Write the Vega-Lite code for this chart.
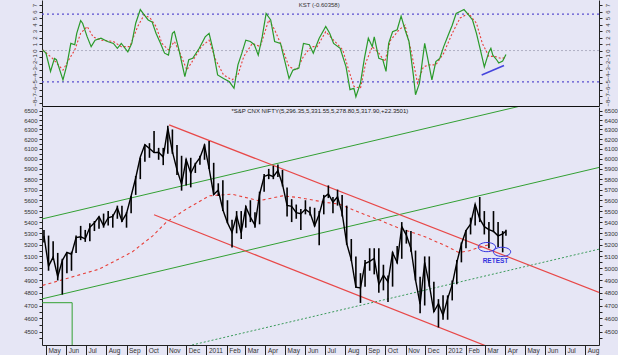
{
"$schema":"https://vega.github.io/schema/vega-lite/v6.json",
"background":"#e6e6f5",
"padding":{"left":5,"top":0,"right":0,"bottom":0},
"spacing":0,
"config":{"view":{"stroke":null},"axis":{"labelFont":"Liberation Sans","labelFontSize":6,"labelColor":"#333","domainColor":"#222","tickColor":"#222","grid":false},"text":{"font":"Liberation Sans"}},
"datasets":{
"lv":[{"v":5.6},{"v":-4.8}],
"zero":[{"v":0}],
"kt":[{"date":"2011-06-22","v":7.0,"t":"KST (-0.60358)"}],
"kb":[{"date":"2012-02-25","v":-3.75},{"date":"2012-03-30","v":-2.3}],
"kst":[{"date":"2010-04-26","v":0.1},{"date":"2010-05-01","v":-0.4},{"date":"2010-05-08","v":-3.2},{"date":"2010-05-14","v":-1.2},{"date":"2010-05-17","v":-1.4},{"date":"2010-05-27","v":-4.5},{"date":"2010-06-02","v":-2.2},{"date":"2010-06-08","v":1.1},{"date":"2010-06-14","v":0.9},{"date":"2010-06-17","v":2.65},{"date":"2010-06-23","v":4.6},{"date":"2010-06-26","v":4.2},{"date":"2010-07-03","v":2.1},{"date":"2010-07-09","v":0.6},{"date":"2010-07-15","v":1.6},{"date":"2010-07-24","v":1.9},{"date":"2010-08-03","v":1.4},{"date":"2010-08-12","v":1.1},{"date":"2010-08-18","v":0.35},{"date":"2010-08-24","v":1.1},{"date":"2010-09-03","v":-0.2},{"date":"2010-09-09","v":1.1},{"date":"2010-09-15","v":4.2},{"date":"2010-09-22","v":6.3},{"date":"2010-09-28","v":5.5},{"date":"2010-10-04","v":4.7},{"date":"2010-10-10","v":4.4},{"date":"2010-10-16","v":2.65},{"date":"2010-10-23","v":1.1},{"date":"2010-10-29","v":-0.4},{"date":"2010-11-04","v":-0.7},{"date":"2010-11-10","v":2.65},{"date":"2010-11-13","v":2.9},{"date":"2010-11-20","v":0.1},{"date":"2010-11-29","v":-4},{"date":"2010-12-05","v":-1.4},{"date":"2010-12-11","v":-1.2},{"date":"2010-12-21","v":0.35},{"date":"2010-12-30","v":2.1},{"date":"2011-01-05","v":2.65},{"date":"2011-01-11","v":0.1},{"date":"2011-01-18","v":-3.75},{"date":"2011-01-27","v":-4.3},{"date":"2011-02-05","v":-4.8},{"date":"2011-02-12","v":-5.8},{"date":"2011-02-18","v":-2.2},{"date":"2011-02-24","v":-0.4},{"date":"2011-03-02","v":1.6},{"date":"2011-03-09","v":1.4},{"date":"2011-03-15","v":0.9},{"date":"2011-03-21","v":-0.7},{"date":"2011-03-27","v":2.1},{"date":"2011-04-02","v":5.7},{"date":"2011-04-09","v":4.7},{"date":"2011-04-15","v":1.4},{"date":"2011-04-24","v":1.1},{"date":"2011-04-30","v":-1.4},{"date":"2011-05-07","v":-4.3},{"date":"2011-05-13","v":-3},{"date":"2011-05-22","v":-2.7},{"date":"2011-05-29","v":1.1},{"date":"2011-06-07","v":0.9},{"date":"2011-06-13","v":-0.4},{"date":"2011-06-22","v":1.9},{"date":"2011-07-02","v":3.7},{"date":"2011-07-08","v":2.65},{"date":"2011-07-14","v":1.1},{"date":"2011-07-24","v":0.35},{"date":"2011-08-02","v":-2.5},{"date":"2011-08-08","v":-6},{"date":"2011-08-14","v":-5.8},{"date":"2011-08-17","v":-7.1},{"date":"2011-08-24","v":-5},{"date":"2011-08-30","v":-1.2},{"date":"2011-09-05","v":1.9},{"date":"2011-09-11","v":0.6},{"date":"2011-09-14","v":2.1},{"date":"2011-09-21","v":-1.2},{"date":"2011-09-27","v":-1.4},{"date":"2011-10-02","v":-3.2},{"date":"2011-10-06","v":1.1},{"date":"2011-10-12","v":2.9},{"date":"2011-10-19","v":3.2},{"date":"2011-10-25","v":5.3},{"date":"2011-10-31","v":3.2},{"date":"2011-11-06","v":1.4},{"date":"2011-11-13","v":-4},{"date":"2011-11-16","v":-6.8},{"date":"2011-11-22","v":-5},{"date":"2011-11-30","v":1.1},{"date":"2011-12-04","v":-0.9},{"date":"2011-12-11","v":-4.5},{"date":"2011-12-17","v":-1.7},{"date":"2011-12-23","v":-1.2},{"date":"2011-12-29","v":0.6},{"date":"2012-01-05","v":2.4},{"date":"2012-01-11","v":3.9},{"date":"2012-01-17","v":5.7},{"date":"2012-01-23","v":6},{"date":"2012-01-29","v":6.3},{"date":"2012-02-05","v":5.5},{"date":"2012-02-11","v":4.7},{"date":"2012-02-17","v":2.65},{"date":"2012-02-23","v":0.1},{"date":"2012-02-29","v":-2.5},{"date":"2012-03-07","v":-0.2},{"date":"2012-03-10","v":0.35},{"date":"2012-03-13","v":-0.7},{"date":"2012-03-19","v":-1.45},{"date":"2012-03-22","v":-1.9},{"date":"2012-03-28","v":-1.6},{"date":"2012-04-02","v":-0.6}],
"sig":[{"date":"2010-04-26","v":0.1},{"date":"2010-05-11","v":-1.2},{"date":"2010-05-27","v":-3},{"date":"2010-06-05","v":-1.4},{"date":"2010-06-14","v":0.1},{"date":"2010-06-23","v":2.65},{"date":"2010-07-03","v":3.7},{"date":"2010-07-12","v":2.1},{"date":"2010-07-24","v":1.6},{"date":"2010-08-12","v":1.4},{"date":"2010-08-24","v":0.6},{"date":"2010-09-06","v":0.6},{"date":"2010-09-18","v":3.7},{"date":"2010-09-28","v":5.5},{"date":"2010-10-07","v":5},{"date":"2010-10-16","v":3.7},{"date":"2010-10-25","v":1.1},{"date":"2010-11-04","v":0.1},{"date":"2010-11-13","v":1.4},{"date":"2010-11-23","v":-0.7},{"date":"2010-12-02","v":-3},{"date":"2010-12-12","v":-1.4},{"date":"2010-12-24","v":0.6},{"date":"2011-01-05","v":1.6},{"date":"2011-01-15","v":-1.4},{"date":"2011-01-27","v":-3.75},{"date":"2011-02-09","v":-4.5},{"date":"2011-02-18","v":-3.75},{"date":"2011-02-27","v":-0.9},{"date":"2011-03-12","v":1.1},{"date":"2011-03-24","v":0.6},{"date":"2011-04-06","v":4.7},{"date":"2011-04-15","v":3.2},{"date":"2011-04-24","v":1.1},{"date":"2011-05-07","v":-2.5},{"date":"2011-05-19","v":-3},{"date":"2011-05-29","v":-0.9},{"date":"2011-06-10","v":0.6},{"date":"2011-06-19","v":0.6},{"date":"2011-07-02","v":2.9},{"date":"2011-07-14","v":1.6},{"date":"2011-07-28","v":0.1},{"date":"2011-08-06","v":-3},{"date":"2011-08-14","v":-5.5},{"date":"2011-08-24","v":-5.8},{"date":"2011-09-01","v":-1.9},{"date":"2011-09-11","v":0.6},{"date":"2011-09-21","v":-0.4},{"date":"2011-09-30","v":-1.7},{"date":"2011-10-09","v":1.6},{"date":"2011-10-22","v":3.2},{"date":"2011-10-31","v":3.9},{"date":"2011-11-09","v":0.1},{"date":"2011-11-19","v":-5},{"date":"2011-11-28","v":-2.5},{"date":"2011-12-07","v":-2.2},{"date":"2011-12-17","v":-2.2},{"date":"2011-12-29","v":-0.4},{"date":"2012-01-11","v":2.65},{"date":"2012-01-23","v":5},{"date":"2012-02-05","v":5.7},{"date":"2012-02-17","v":4.2},{"date":"2012-02-26","v":1.1},{"date":"2012-03-07","v":-0.9},{"date":"2012-03-16","v":-0.9},{"date":"2012-03-25","v":-1.2},{"date":"2012-04-02","v":-1.1}],
"px":[{"date":"2010-04-28","h":5330,"l":5220,"c":5278},{"date":"2010-05-05","h":5280,"l":4980,"c":5018},{"date":"2010-05-12","h":5230,"l":5080,"c":5094},{"date":"2010-05-19","h":5130,"l":4900,"c":4931},{"date":"2010-05-26","h":5080,"l":4786,"c":5066},{"date":"2010-06-02","h":5135,"l":4960,"c":5135},{"date":"2010-06-09","h":5140,"l":4980,"c":5119},{"date":"2010-06-16","h":5280,"l":5130,"c":5262},{"date":"2010-06-23","h":5366,"l":5240,"c":5269},{"date":"2010-06-30","h":5330,"l":5225,"c":5251},{"date":"2010-07-07","h":5390,"l":5230,"c":5353},{"date":"2010-07-14","h":5410,"l":5320,"c":5393},{"date":"2010-07-21","h":5450,"l":5340,"c":5449},{"date":"2010-07-28","h":5477,"l":5350,"c":5367},{"date":"2010-08-04","h":5500,"l":5370,"c":5439},{"date":"2010-08-11","h":5470,"l":5350,"c":5452},{"date":"2010-08-18","h":5550,"l":5430,"c":5530},{"date":"2010-08-25","h":5549,"l":5400,"c":5408},{"date":"2010-09-01","h":5490,"l":5350,"c":5479},{"date":"2010-09-08","h":5640,"l":5480,"c":5640},{"date":"2010-09-15","h":5830,"l":5650,"c":5811},{"date":"2010-09-22","h":6010,"l":5800,"c":6018},{"date":"2010-09-29","h":6145,"l":5970,"c":6143},{"date":"2010-10-06","h":6158,"l":6010,"c":6103},{"date":"2010-10-13","h":6284,"l":6060,"c":6062},{"date":"2010-10-20","h":6110,"l":5990,"c":6066},{"date":"2010-10-27","h":6110,"l":5937,"c":6018},{"date":"2010-11-03","h":6338,"l":6050,"c":6312},{"date":"2010-11-10","h":6300,"l":6050,"c":6071},{"date":"2010-11-17","h":6140,"l":5840,"c":5890},{"date":"2010-11-24","h":6030,"l":5690,"c":5752},{"date":"2010-12-01","h":6000,"l":5740,"c":5992},{"date":"2010-12-08","h":6010,"l":5721,"c":5857},{"date":"2010-12-15","h":5960,"l":5860,"c":5948},{"date":"2010-12-22","h":6030,"l":5940,"c":6011},{"date":"2010-12-29","h":6147,"l":5990,"c":6135},{"date":"2011-01-05","h":6181,"l":5900,"c":5904},{"date":"2011-01-12","h":5960,"l":5650,"c":5654},{"date":"2011-01-19","h":5760,"l":5640,"c":5696},{"date":"2011-01-26","h":5790,"l":5500,"c":5512},{"date":"2011-02-02","h":5600,"l":5390,"c":5395},{"date":"2011-02-09","h":5420,"l":5177,"c":5310},{"date":"2011-02-16","h":5500,"l":5300,"c":5458},{"date":"2011-02-23","h":5500,"l":5250,"c":5303},{"date":"2011-03-02","h":5550,"l":5350,"c":5538},{"date":"2011-03-09","h":5600,"l":5400,"c":5445},{"date":"2011-03-16","h":5490,"l":5350,"c":5373},{"date":"2011-03-23","h":5680,"l":5380,"c":5654},{"date":"2011-03-30","h":5850,"l":5680,"c":5826},{"date":"2011-04-06","h":5900,"l":5800,"c":5842},{"date":"2011-04-13","h":5930,"l":5800,"c":5824},{"date":"2011-04-20","h":5944,"l":5820,"c":5884},{"date":"2011-04-27","h":5890,"l":5730,"c":5749},{"date":"2011-05-04","h":5720,"l":5450,"c":5552},{"date":"2011-05-11","h":5610,"l":5400,"c":5544},{"date":"2011-05-18","h":5560,"l":5430,"c":5486},{"date":"2011-05-25","h":5520,"l":5330,"c":5476},{"date":"2011-06-01","h":5600,"l":5470,"c":5516},{"date":"2011-06-08","h":5540,"l":5460,"c":5485},{"date":"2011-06-15","h":5530,"l":5360,"c":5366},{"date":"2011-06-22","h":5500,"l":5195,"c":5471},{"date":"2011-06-29","h":5650,"l":5470,"c":5627},{"date":"2011-07-06","h":5740,"l":5620,"c":5660},{"date":"2011-07-13","h":5630,"l":5480,"c":5581},{"date":"2011-07-20","h":5700,"l":5550,"c":5633},{"date":"2011-07-27","h":5650,"l":5450,"c":5482},{"date":"2011-08-03","h":5550,"l":5200,"c":5211},{"date":"2011-08-10","h":5250,"l":5060,"c":5072},{"date":"2011-08-17","h":5100,"l":4840,"c":4845},{"date":"2011-08-24","h":4960,"l":4720,"c":4839},{"date":"2011-08-31","h":5070,"l":4850,"c":5040},{"date":"2011-09-07","h":5170,"l":4980,"c":5059},{"date":"2011-09-14","h":5170,"l":4950,"c":5084},{"date":"2011-09-21","h":5169,"l":4800,"c":4868},{"date":"2011-09-28","h":5030,"l":4820,"c":4943},{"date":"2011-10-05","h":4940,"l":4728,"c":4888},{"date":"2011-10-12","h":5140,"l":4850,"c":5132},{"date":"2011-10-19","h":5190,"l":5040,"c":5049},{"date":"2011-10-26","h":5400,"l":5080,"c":5360},{"date":"2011-11-02","h":5330,"l":5210,"c":5284},{"date":"2011-11-09","h":5320,"l":5140,"c":5168},{"date":"2011-11-16","h":5150,"l":4900,"c":4905},{"date":"2011-11-23","h":4930,"l":4640,"c":4710},{"date":"2011-11-30","h":5100,"l":4700,"c":5050},{"date":"2011-12-07","h":5100,"l":4850,"c":4866},{"date":"2011-12-14","h":4890,"l":4650,"c":4651},{"date":"2011-12-21","h":4750,"l":4531,"c":4714},{"date":"2011-12-28","h":4780,"l":4590,"c":4624},{"date":"2012-01-04","h":4780,"l":4590,"c":4754},{"date":"2012-01-11","h":4900,"l":4740,"c":4866},{"date":"2012-01-18","h":5070,"l":4870,"c":5049},{"date":"2012-01-25","h":5220,"l":5050,"c":5204},{"date":"2012-02-01","h":5330,"l":5170,"c":5325},{"date":"2012-02-08","h":5440,"l":5290,"c":5381},{"date":"2012-02-15","h":5560,"l":5370,"c":5564},{"date":"2012-02-22","h":5630,"l":5400,"c":5429},{"date":"2012-02-29","h":5500,"l":5290,"c":5359},{"date":"2012-03-07","h":5400,"l":5170,"c":5333},{"date":"2012-03-14","h":5500,"l":5310,"c":5317},{"date":"2012-03-21","h":5400,"l":5180,"c":5278},{"date":"2012-03-28","h":5320,"l":5135,"c":5296},{"date":"2012-04-02","h":5332,"l":5279,"c":5318}],
"ma":[{"date":"2010-04-26","p":4860},{"date":"2010-05-29","p":4910},{"date":"2010-07-21","p":4993},{"date":"2010-08-14","p":5060},{"date":"2010-09-10","p":5140},{"date":"2010-10-11","p":5278},{"date":"2010-10-31","p":5395},{"date":"2010-12-01","p":5518},{"date":"2011-01-05","p":5641},{"date":"2011-02-09","p":5657},{"date":"2011-03-22","p":5595},{"date":"2011-04-27","p":5641},{"date":"2011-05-22","p":5625},{"date":"2011-07-02","p":5580},{"date":"2011-07-23","p":5563},{"date":"2011-08-22","p":5488},{"date":"2011-09-21","p":5420},{"date":"2011-10-22","p":5345},{"date":"2011-11-27","p":5278},{"date":"2012-01-01","p":5191},{"date":"2012-01-21","p":5134},{"date":"2012-02-06","p":5148},{"date":"2012-02-21","p":5177},{"date":"2012-03-07","p":5200}],
"red":[{"date":"2010-11-05","p":6348,"id":"a"},{"date":"2012-08-22","p":4804,"id":"a"},{"date":"2010-10-13","p":5466,"id":"b"},{"date":"2012-03-07","p":4386,"id":"b"}],
"green":[{"date":"2010-04-25","p":5428,"id":"a"},{"date":"2012-05-07","p":6572,"id":"a"},{"date":"2010-04-25","p":4752,"id":"b"},{"date":"2012-08-22","p":5914,"id":"b"}],
"gdot":[{"date":"2010-12-10","p":4401},{"date":"2012-08-22","p":5162}],
"brk":[{"date":"2010-04-25","p":4722,"o":1},{"date":"2010-06-10","p":4722,"o":2},{"date":"2010-06-10","p":4380,"o":3}],
"ell":[{"date":"2012-03-04","p":5180},{"date":"2012-03-27","p":5139}],
"ann":[{"date":"2012-03-17","p":5062,"t":"RETEST"}],
"ttl":[{"date":"2011-02-08","p":6500,"t":"*S&P CNX NIFTY(5,296.35,5,331.55,5,278.80,5,317.90,+22.3501)"}]
},
"vconcat":[
{"width":557,"height":106,
"layer":[
{"data":{"name":"lv"},"mark":{"type":"rule","color":"#5a4fcf","strokeDash":[2,3],"strokeWidth":1.3},"encoding":{"y":{"field":"v","type":"quantitative","scale":{"domain":[-8.52,7.77],"nice":false,"zero":false},"axis":{"orient":"right","values":[-8,-7.5,-7,-6.5,-6,-5.5,-5,-4.5,-4,-3.5,-3,-2.5,-2,-1.5,-1,-0.5,0,0.5,1,1.5,2,2.5,3,3.5,4,4.5,5,5.5,6,6.5,7,7.5],"format":"d","labelExpr":"datum.value % 1 == 0 ? datum.label : ''","labelAngle":-90,"tickSize":3,"labelPadding":2,"title":null,"labelFlush":false,"labelOverlap":false,"labelBound":false}}}},
{"data":{"name":"zero"},"mark":{"type":"rule","color":"#b0b0c4","strokeDash":[2,2],"strokeWidth":1},"encoding":{"y":{"field":"v","type":"quantitative","scale":{"domain":[-8.52,7.77],"nice":false,"zero":false},"axis":null}}},
{"data":{"name":"sig"},"mark":{"type":"line","color":"#e8403a","strokeDash":[2,2],"strokeWidth":1.1,"clip":true},"encoding":{"x":{"field":"date","type":"temporal","scale":{"type":"utc","domain":[{"year":2010,"month":4,"date":25,"utc":true},{"year":2012,"month":8,"date":22,"utc":true}]},"axis":{"orient":"bottom","labels":false,"ticks":false,"domain":true,"title":null,"domainColor":"#111"}},"y":{"field":"v","type":"quantitative","scale":{"domain":[-8.52,7.77],"nice":false,"zero":false},"axis":null}}},
{"data":{"name":"kst"},"mark":{"type":"line","color":"#2a9a2a","strokeWidth":1.2,"clip":true},"encoding":{"x":{"field":"date","type":"temporal","scale":{"type":"utc","domain":[{"year":2010,"month":4,"date":25,"utc":true},{"year":2012,"month":8,"date":22,"utc":true}]},"axis":{"orient":"bottom","labels":false,"ticks":false,"domain":true,"title":null,"domainColor":"#111"}},"y":{"field":"v","type":"quantitative","scale":{"domain":[-8.52,7.77],"nice":false,"zero":false},"axis":{"orient":"left","values":[-8,-7.5,-7,-6.5,-6,-5.5,-5,-4.5,-4,-3.5,-3,-2.5,-2,-1.5,-1,-0.5,0,0.5,1,1.5,2,2.5,3,3.5,4,4.5,5,5.5,6,6.5,7,7.5],"format":"d","labelExpr":"datum.value % 1 == 0 ? datum.label : ''","labelAngle":-90,"tickSize":3,"labelPadding":2,"minExtent":37,"maxExtent":37,"title":null,"labelFlush":false,"labelOverlap":false,"labelBound":false}}}},
{"data":{"name":"kb"},"mark":{"type":"line","color":"#4444dd","strokeWidth":1.6},"encoding":{"x":{"field":"date","type":"temporal","scale":{"type":"utc","domain":[{"year":2010,"month":4,"date":25,"utc":true},{"year":2012,"month":8,"date":22,"utc":true}]},"axis":{"orient":"bottom","labels":false,"ticks":false,"domain":true,"title":null,"domainColor":"#111"}},"y":{"field":"v","type":"quantitative","scale":{"domain":[-8.52,7.77],"nice":false,"zero":false},"axis":null}}},
{"data":{"name":"kt"},"mark":{"type":"text","fontSize":6,"color":"#333","align":"center","baseline":"middle"},"encoding":{"x":{"field":"date","type":"temporal","scale":{"type":"utc","domain":[{"year":2010,"month":4,"date":25,"utc":true},{"year":2012,"month":8,"date":22,"utc":true}]},"axis":{"orient":"bottom","labels":false,"ticks":false,"domain":true,"title":null,"domainColor":"#111"}},"y":{"field":"v","type":"quantitative","scale":{"domain":[-8.52,7.77],"nice":false,"zero":false},"axis":null},"text":{"field":"t"}}}
],
"resolve":{"scale":{"y":"independent"}}
},
{"width":557,"height":238,
"layer":[
{"data":{"name":"gdot"},"mark":{"type":"line","color":"#3a9a5a","strokeDash":[2,2],"strokeWidth":1,"clip":true},"encoding":{"x":{"field":"date","type":"temporal","scale":{"type":"utc","domain":[{"year":2010,"month":4,"date":25,"utc":true},{"year":2012,"month":8,"date":22,"utc":true}]},"axis":{"orient":"bottom","tickCount":{"interval":"month","step":1},"labelExpr":"utcFormat(datum.value, '%m') == '01' ? utcFormat(datum.value, '%Y') : utcFormat(datum.value, '%b')","labelAlign":"left","labelOffset":2,"tickSize":10,"labelPadding":-8,"labelBaseline":"top","labelFontSize":6.5,"title":null,"labelOverlap":false,"labelFlush":false,"labelBound":false}},"y":{"field":"p","type":"quantitative","scale":{"type":"log","domain":[4401,6540],"nice":false,"zero":false},"axis":null}}},
{"data":{"name":"green"},"mark":{"type":"line","color":"#33a033","strokeWidth":1,"clip":true},"encoding":{"x":{"field":"date","type":"temporal","scale":{"type":"utc","domain":[{"year":2010,"month":4,"date":25,"utc":true},{"year":2012,"month":8,"date":22,"utc":true}]},"axis":{"orient":"bottom","tickCount":{"interval":"month","step":1},"labelExpr":"utcFormat(datum.value, '%m') == '01' ? utcFormat(datum.value, '%Y') : utcFormat(datum.value, '%b')","labelAlign":"left","labelOffset":2,"tickSize":10,"labelPadding":-8,"labelBaseline":"top","labelFontSize":6.5,"title":null,"labelOverlap":false,"labelFlush":false,"labelBound":false}},"y":{"field":"p","type":"quantitative","scale":{"type":"log","domain":[4401,6540],"nice":false,"zero":false},"axis":{"orient":"right","values":[4450,4500,4550,4600,4650,4700,4750,4800,4850,4900,4950,5000,5050,5100,5150,5200,5250,5300,5350,5400,5450,5500,5550,5600,5650,5700,5750,5800,5850,5900,5950,6000,6050,6100,6150,6200,6250,6300,6350,6400,6450,6500],"format":"d","labelExpr":"datum.value % 100 == 0 ? datum.label : ''","tickSize":3,"labelPadding":2,"title":null,"labelFlush":false,"labelOverlap":false,"labelBound":false}},"detail":{"field":"id"}}},
{"data":{"name":"red"},"mark":{"type":"line","color":"#e84848","strokeWidth":1.2,"clip":true},"encoding":{"x":{"field":"date","type":"temporal","scale":{"type":"utc","domain":[{"year":2010,"month":4,"date":25,"utc":true},{"year":2012,"month":8,"date":22,"utc":true}]},"axis":{"orient":"bottom","tickCount":{"interval":"month","step":1},"labelExpr":"utcFormat(datum.value, '%m') == '01' ? utcFormat(datum.value, '%Y') : utcFormat(datum.value, '%b')","labelAlign":"left","labelOffset":2,"tickSize":10,"labelPadding":-8,"labelBaseline":"top","labelFontSize":6.5,"title":null,"labelOverlap":false,"labelFlush":false,"labelBound":false}},"y":{"field":"p","type":"quantitative","scale":{"type":"log","domain":[4401,6540],"nice":false,"zero":false},"axis":null},"detail":{"field":"id"}}},
{"data":{"name":"ma"},"mark":{"type":"line","color":"#e8403a","strokeDash":[3,3],"strokeWidth":1.1,"clip":true},"encoding":{"x":{"field":"date","type":"temporal","scale":{"type":"utc","domain":[{"year":2010,"month":4,"date":25,"utc":true},{"year":2012,"month":8,"date":22,"utc":true}]},"axis":{"orient":"bottom","tickCount":{"interval":"month","step":1},"labelExpr":"utcFormat(datum.value, '%m') == '01' ? utcFormat(datum.value, '%Y') : utcFormat(datum.value, '%b')","labelAlign":"left","labelOffset":2,"tickSize":10,"labelPadding":-8,"labelBaseline":"top","labelFontSize":6.5,"title":null,"labelOverlap":false,"labelFlush":false,"labelBound":false}},"y":{"field":"p","type":"quantitative","scale":{"type":"log","domain":[4401,6540],"nice":false,"zero":false},"axis":null}}},
{"data":{"name":"brk"},"mark":{"type":"line","color":"#33a033","strokeWidth":1,"clip":true},"encoding":{"x":{"field":"date","type":"temporal","scale":{"type":"utc","domain":[{"year":2010,"month":4,"date":25,"utc":true},{"year":2012,"month":8,"date":22,"utc":true}]},"axis":{"orient":"bottom","tickCount":{"interval":"month","step":1},"labelExpr":"utcFormat(datum.value, '%m') == '01' ? utcFormat(datum.value, '%Y') : utcFormat(datum.value, '%b')","labelAlign":"left","labelOffset":2,"tickSize":10,"labelPadding":-8,"labelBaseline":"top","labelFontSize":6.5,"title":null,"labelOverlap":false,"labelFlush":false,"labelBound":false}},"y":{"field":"p","type":"quantitative","scale":{"type":"log","domain":[4401,6540],"nice":false,"zero":false},"axis":null},"order":{"field":"o"}}},
{"data":{"name":"px"},"mark":{"type":"rule","color":"#000","strokeWidth":1.6},"encoding":{"x":{"field":"date","type":"temporal","scale":{"type":"utc","domain":[{"year":2010,"month":4,"date":25,"utc":true},{"year":2012,"month":8,"date":22,"utc":true}]},"axis":{"orient":"bottom","tickCount":{"interval":"month","step":1},"labelExpr":"utcFormat(datum.value, '%m') == '01' ? utcFormat(datum.value, '%Y') : utcFormat(datum.value, '%b')","labelAlign":"left","labelOffset":2,"tickSize":10,"labelPadding":-8,"labelBaseline":"top","labelFontSize":6.5,"title":null,"labelOverlap":false,"labelFlush":false,"labelBound":false}},"y":{"field":"l","type":"quantitative","scale":{"type":"log","domain":[4401,6540],"nice":false,"zero":false},"axis":{"orient":"left","values":[4450,4500,4550,4600,4650,4700,4750,4800,4850,4900,4950,5000,5050,5100,5150,5200,5250,5300,5350,5400,5450,5500,5550,5600,5650,5700,5750,5800,5850,5900,5950,6000,6050,6100,6150,6200,6250,6300,6350,6400,6450,6500],"format":"d","labelExpr":"datum.value % 100 == 0 ? datum.label : ''","tickSize":3,"labelPadding":2,"minExtent":37,"maxExtent":37,"title":null,"labelFlush":false,"labelOverlap":false,"labelBound":false}},"y2":{"field":"h"}}},
{"data":{"name":"px"},"mark":{"type":"line","color":"#000","strokeWidth":1.4},"encoding":{"x":{"field":"date","type":"temporal","scale":{"type":"utc","domain":[{"year":2010,"month":4,"date":25,"utc":true},{"year":2012,"month":8,"date":22,"utc":true}]},"axis":{"orient":"bottom","tickCount":{"interval":"month","step":1},"labelExpr":"utcFormat(datum.value, '%m') == '01' ? utcFormat(datum.value, '%Y') : utcFormat(datum.value, '%b')","labelAlign":"left","labelOffset":2,"tickSize":10,"labelPadding":-8,"labelBaseline":"top","labelFontSize":6.5,"title":null,"labelOverlap":false,"labelFlush":false,"labelBound":false}},"y":{"field":"c","type":"quantitative","scale":{"type":"log","domain":[4401,6540],"nice":false,"zero":false},"axis":null}}},
{"data":{"name":"ell"},"mark":{"type":"point","shape":"M-1,0A1,0.53 0 1,1 1,0A1,0.53 0 1,1 -1,0Z","size":300,"filled":false,"stroke":"#3333dd","strokeWidth":1,"opacity":1},"encoding":{"x":{"field":"date","type":"temporal","scale":{"type":"utc","domain":[{"year":2010,"month":4,"date":25,"utc":true},{"year":2012,"month":8,"date":22,"utc":true}]},"axis":{"orient":"bottom","tickCount":{"interval":"month","step":1},"labelExpr":"utcFormat(datum.value, '%m') == '01' ? utcFormat(datum.value, '%Y') : utcFormat(datum.value, '%b')","labelAlign":"left","labelOffset":2,"tickSize":10,"labelPadding":-8,"labelBaseline":"top","labelFontSize":6.5,"title":null,"labelOverlap":false,"labelFlush":false,"labelBound":false}},"y":{"field":"p","type":"quantitative","scale":{"type":"log","domain":[4401,6540],"nice":false,"zero":false},"axis":null}}},
{"data":{"name":"ann"},"mark":{"type":"text","fontSize":6.5,"fontWeight":"bold","color":"#3333dd","align":"center","baseline":"middle"},"encoding":{"x":{"field":"date","type":"temporal","scale":{"type":"utc","domain":[{"year":2010,"month":4,"date":25,"utc":true},{"year":2012,"month":8,"date":22,"utc":true}]},"axis":{"orient":"bottom","tickCount":{"interval":"month","step":1},"labelExpr":"utcFormat(datum.value, '%m') == '01' ? utcFormat(datum.value, '%Y') : utcFormat(datum.value, '%b')","labelAlign":"left","labelOffset":2,"tickSize":10,"labelPadding":-8,"labelBaseline":"top","labelFontSize":6.5,"title":null,"labelOverlap":false,"labelFlush":false,"labelBound":false}},"y":{"field":"p","type":"quantitative","scale":{"type":"log","domain":[4401,6540],"nice":false,"zero":false},"axis":null},"text":{"field":"t"}}},
{"data":{"name":"ttl"},"mark":{"type":"text","fontSize":6,"color":"#222","align":"left","baseline":"middle"},"encoding":{"x":{"field":"date","type":"temporal","scale":{"type":"utc","domain":[{"year":2010,"month":4,"date":25,"utc":true},{"year":2012,"month":8,"date":22,"utc":true}]},"axis":{"orient":"bottom","tickCount":{"interval":"month","step":1},"labelExpr":"utcFormat(datum.value, '%m') == '01' ? utcFormat(datum.value, '%Y') : utcFormat(datum.value, '%b')","labelAlign":"left","labelOffset":2,"tickSize":10,"labelPadding":-8,"labelBaseline":"top","labelFontSize":6.5,"title":null,"labelOverlap":false,"labelFlush":false,"labelBound":false}},"y":{"field":"p","type":"quantitative","scale":{"type":"log","domain":[4401,6540],"nice":false,"zero":false},"axis":null},"text":{"field":"t"}}}
],
"resolve":{"scale":{"y":"independent"}}
}
]
}
